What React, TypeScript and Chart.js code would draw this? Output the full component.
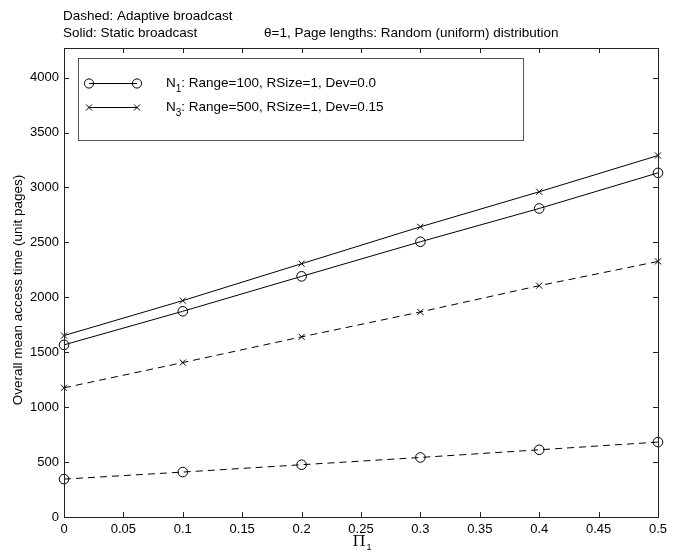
import React, { useEffect, useRef } from "react";
import { Chart, registerables } from "chart.js";
Chart.register(...registerables);

const xValues = [0, 0.1, 0.2, 0.3, 0.4, 0.5];
const staticN1 = [1567, 1873, 2191, 2506, 2809, 3133];
const staticN3 = [1652, 1970, 2306, 2642, 2961, 3291];
const adaptiveN1 = [345, 409, 476, 542, 612, 682];
const adaptiveN3 = [1176, 1406, 1640, 1867, 2106, 2327];

const xTicks = [0, 0.05, 0.1, 0.15, 0.2, 0.25, 0.3, 0.35, 0.4, 0.45, 0.5];
const xTickLabels = ["0", "0.05", "0.1", "0.15", "0.2", "0.25", "0.3", "0.35", "0.4", "0.45", "0.5"];
const yTicks = [0, 500, 1000, 1500, 2000, 2500, 3000, 3500, 4000];
const yTickLabels = ["0", "500", "1000", "1500", "2000", "2500", "3000", "3500", "4000"];
const yMax = 4270;

const topLine1 = "Dashed: Adaptive broadcast";
const topLine2 = "Solid: Static broadcast";
const topLine3 = "\u03B8=1, Page lengths: Random (uniform) distribution";
const yTitle = "Overall mean access time (unit pages)";
const legendRows = [
  { main: "N", sub: "1", rest: ": Range=100, RSize=1, Dev=0.0", marker: "circle" },
  { main: "N", sub: "3", rest: ": Range=500, RSize=1, Dev=0.15", marker: "cross" },
];

const FONT = '"Liberation Sans", Arial, Helvetica, sans-serif';
const TXT = 13.5;

function drawMarker(ctx: CanvasRenderingContext2D, kind: string, x: number, y: number) {
  ctx.beginPath();
  if (kind === "circle") {
    ctx.arc(x, y, 4.6, 0, Math.PI * 2);
  } else {
    const r = 3;
    ctx.moveTo(x - r, y - r);
    ctx.lineTo(x + r, y + r);
    ctx.moveTo(x + r, y - r);
    ctx.lineTo(x - r, y + r);
  }
  ctx.stroke();
}

const decorPlugin = {
  id: "decor",
  afterDraw(chart: any) {
    const ctx: CanvasRenderingContext2D = chart.ctx;
    const a = chart.chartArea;
    const xs = chart.scales.x;
    const ys = chart.scales.y;
    ctx.save();
    ctx.strokeStyle = "#222";
    ctx.lineWidth = 1;
    ctx.strokeRect(Math.round(a.left) + 0.5, Math.round(a.top) + 0.5, Math.round(a.right - a.left), Math.round(a.bottom - a.top));
    const tl = 5;
    ctx.beginPath();
    xTicks.forEach((v) => {
      const px = Math.round(xs.getPixelForValue(v)) + 0.5;
      ctx.moveTo(px, a.bottom);
      ctx.lineTo(px, a.bottom - tl);
      ctx.moveTo(px, a.top);
      ctx.lineTo(px, a.top + tl);
    });
    yTicks.forEach((v) => {
      const py = Math.round(ys.getPixelForValue(v)) + 0.5;
      ctx.moveTo(a.left, py);
      ctx.lineTo(a.left + tl, py);
      ctx.moveTo(a.right, py);
      ctx.lineTo(a.right - tl, py);
    });
    ctx.stroke();

    ctx.fillStyle = "#000";
    ctx.font = `${TXT}px ${FONT}`;
    ctx.textBaseline = "middle";
    ctx.textAlign = "left";
    ctx.fillText(topLine1, 63, 16);
    ctx.fillText(topLine2, 63, 33);
    ctx.fillText(topLine3, 264, 33);

    ctx.save();
    ctx.translate(18, 290);
    ctx.rotate(-Math.PI / 2);
    ctx.textAlign = "center";
    ctx.fillText(yTitle, 0, 0);
    ctx.restore();

    const cx = (a.left + a.right) / 2;
    ctx.font = `15px "DejaVu Serif", "Liberation Serif", serif`;
    ctx.textAlign = "left";
    const piW = ctx.measureText("\u03A0").width;
    ctx.fillText("\u03A0", cx - piW / 2 - 2, 542);
    ctx.font = `9px ${FONT}`;
    ctx.fillText("1", cx + piW / 2 - 1, 548);

    const lx = 78.5, ly = 58.5, lw = 445, lh = 82;
    ctx.fillStyle = "#fff";
    ctx.fillRect(lx, ly, lw, lh);
    ctx.strokeStyle = "#555";
    ctx.strokeRect(lx, ly, lw, lh);
    ctx.strokeStyle = "#000";
    ctx.fillStyle = "#000";
    legendRows.forEach((r, i) => {
      const y = 83 + i * 24;
      ctx.beginPath();
      ctx.moveTo(89, y + 0.5);
      ctx.lineTo(137, y + 0.5);
      ctx.stroke();
      drawMarker(ctx, r.marker, 89, y + 0.5);
      drawMarker(ctx, r.marker, 137, y + 0.5);
      ctx.font = `${TXT}px ${FONT}`;
      ctx.textBaseline = "middle";
      let x = 166;
      ctx.fillText(r.main, x, y);
      x += ctx.measureText(r.main).width;
      ctx.font = `10px ${FONT}`;
      ctx.fillText(r.sub, x, y + 6);
      x += ctx.measureText(r.sub).width;
      ctx.font = `${TXT}px ${FONT}`;
      ctx.fillText(r.rest, x, y);
    });
    ctx.restore();
  },
};

export default function App() {
  const ref = useRef<HTMLCanvasElement | null>(null);
  useEffect(() => {
    if (!ref.current) return;
    const mk = (data: number[], style: string, dashed: boolean) => ({
      data: xValues.map((x, i) => ({ x, y: data[i] })),
      borderColor: "#000",
      borderWidth: 1,
      borderDash: dashed ? [7, 5] : [],
      pointStyle: style,
      pointRadius: style === "circle" ? 4.8 : 4.3,
      pointBorderColor: "#000",
      pointBackgroundColor: "rgba(0,0,0,0)",
      pointBorderWidth: 1,
      fill: false,
      tension: 0,
      clip: false as any,
    });
    const chart = new Chart(ref.current, {
      type: "line",
      data: {
        datasets: [
          mk(staticN1, "circle", false),
          mk(staticN3, "crossRot", false),
          mk(adaptiveN1, "circle", true),
          mk(adaptiveN3, "crossRot", true),
        ] as any,
      },
      options: {
        responsive: false,
        animation: false,
        devicePixelRatio: 1,
        layout: { padding: { left: 0, right: 19, top: 48, bottom: 0 } },
        plugins: { legend: { display: false }, tooltip: { enabled: false } },
        scales: {
          x: {
            type: "linear",
            min: 0,
            max: 0.5,
            afterBuildTicks: (s: any) => {
              s.ticks = xTicks.map((v) => ({ value: v }));
            },
            afterFit: (s: any) => {
              s.height = 34;
            },
            ticks: {
              autoSkip: false,
              maxRotation: 0,
              padding: 5,
              color: "#000",
              font: { family: FONT, size: 13 },
              callback: (_v: any, i: number) => xTickLabels[i],
            },
            grid: { display: false, drawTicks: false },
            border: { display: false },
          },
          y: {
            type: "linear",
            min: 0,
            max: yMax,
            afterBuildTicks: (s: any) => {
              s.ticks = yTicks.map((v) => ({ value: v }));
            },
            afterFit: (s: any) => {
              s.width = 64;
            },
            ticks: {
              autoSkip: false,
              padding: 5,
              color: "#000",
              font: { family: FONT, size: 13 },
              callback: (_v: any, i: number) => yTickLabels[i],
            },
            grid: { display: false, drawTicks: false },
            border: { display: false },
          },
        },
      },
      plugins: [decorPlugin],
    });
    return () => chart.destroy();
  }, []);
  return (
    <div style={{ position: "absolute", left: 0, top: 0, width: 677, height: 551, background: "#fff" }}>
      <canvas ref={ref} width={677} height={551} style={{ width: 677, height: 551, display: "block" }} />
    </div>
  );
}
